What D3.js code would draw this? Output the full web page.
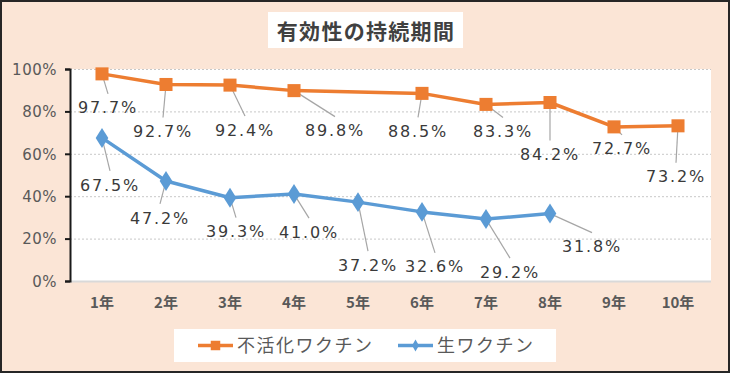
<!DOCTYPE html>
<html lang="ja">
<head>
<meta charset="UTF-8">
<title>有効性の持続期間</title>
<script src="https://d3js.org/d3.v7.min.js"></script>
<style>
    html, body { margin: 0; padding: 0; background: #fff; }
    svg { display: block; }
    .tick-label { font-family: "DejaVu Sans", "Noto Sans CJK JP", sans-serif; fill: #595959; }
    .val { font-family: "DejaVu Sans", sans-serif; font-size: 16px; fill: #3a3a3a; letter-spacing: 1.8px; }
    .leader { stroke: #a6a6a6; stroke-width: 1.2; }
</style>
</head>
<body>
<div id="chart"></div>
<script>
// data
const years = ["1年", "2年", "3年", "4年", "5年", "6年", "7年", "8年", "9年", "10年"];
const inactivated = [97.7, 92.7, 92.4, 89.8, null, 88.5, 83.3, 84.2, 72.7, 73.2];
const live = [67.5, 47.2, 39.3, 41.0, 37.2, 32.6, 29.2, 31.8, null, null];
const yTicks = [0, 20, 40, 60, 80, 100];
const seriesNames = ["不活化ワクチン", "生ワクチン"];

// where Excel put the data labels (offset from the point, px)
const inactLabelOffset = [[6, 34], [-3, 47], [15, 45], [41, 40], null, [-4, 38], [17, 27], [0, 52], [8, 22], [-2, 51]];
const liveLabelOffset = [[8, 47], [-6, 37], [6, 34], [15, 38], [10, 63], [13, 55], [24, 53], [42, 33]];

const W = 730, H = 373;
const plot = { left: 70, right: 711, top: 69, bottom: 281 };

const svg = d3.select("#chart").append("svg")
    .attr("width", W).attr("height", H);

// background + frame
svg.append("rect").attr("x", 1).attr("y", 1).attr("width", W - 2).attr("height", H - 2)
    .attr("fill", "#fbe5d6").attr("stroke", "#262626").attr("stroke-width", 2);

// title
svg.append("rect").attr("x", 268).attr("y", 12).attr("width", 195).attr("height", 36).attr("fill", "#fff");
svg.append("text").attr("x", 366).attr("y", 38.5).attr("text-anchor", "middle")
    .style("font-family", "'Noto Sans CJK JP', sans-serif").style("font-size", "21px")
    .style("font-weight", "bold").style("fill", "#404040").style("letter-spacing", "1.3px")
    .text("有効性の持続期間");

// plot area
svg.append("rect").attr("x", plot.left).attr("y", plot.top)
    .attr("width", plot.right - plot.left).attr("height", plot.bottom - plot.top).attr("fill", "#fff");

const x = d3.scalePoint().domain(years).range([plot.left, plot.right - 1]).padding(0.5);
const y = d3.scaleLinear().domain([0, 100]).range([plot.bottom, plot.top]);

// grid
svg.append("g").selectAll("line").data(yTicks.filter(d => d > 0)).join("line")
    .attr("x1", plot.left).attr("x2", plot.right)
    .attr("y1", d => y(d) + 0.5).attr("y2", d => y(d) + 0.5)
    .attr("stroke", "#c8c8c8").attr("stroke-dasharray", "2,2").attr("stroke-width", 1);

// x axis line (light)
svg.append("line").attr("x1", plot.left).attr("x2", plot.right)
    .attr("y1", plot.bottom + 0.5).attr("y2", plot.bottom + 0.5)
    .attr("stroke", "#d9d9d9").attr("stroke-width", 2);

// y axis
const yAxis = svg.append("g").attr("transform", `translate(${plot.left},0)`)
    .call(d3.axisLeft(y).tickValues(yTicks).tickFormat(d => d + "%").tickSize(5).tickPadding(8));
yAxis.select(".domain").attr("stroke", "#1a1a1a").attr("stroke-width", 2);
yAxis.selectAll(".tick line").attr("stroke", "#1a1a1a").attr("stroke-width", 2);
yAxis.selectAll(".tick text").attr("class", "tick-label").style("font-size", "15px")
    .style("letter-spacing", "0.5px").attr("dy", "0.35em");

// x labels
svg.append("g").selectAll("text").data(years).join("text")
    .attr("class", "tick-label")
    .attr("x", d => x(d)).attr("y", 308).attr("text-anchor", "middle")
    .style("font-size", "15px").style("font-family", "'Noto Sans CJK JP', sans-serif")
    .style("font-weight", "bold").style("fill", "#595959")
    .text(d => d);

const line = d3.line().x(d => x(d.year)).y(d => y(d.v));

function drawSeries(values, offsets, color, shape) {
    const pts = years.map((yr, i) => ({ year: yr, v: values[i], off: offsets[i] }))
        .filter(d => d.v !== null);

    // leader lines
    svg.append("g").selectAll("line").data(pts).join("line")
        .attr("class", "leader")
        .attr("x1", d => x(d.year)).attr("y1", d => y(d.v))
        .attr("x2", d => x(d.year) + d.off[0]).attr("y2", d => y(d.v) + d.off[1] - 14);

    svg.append("path").datum(pts)
        .attr("d", line).attr("fill", "none")
        .attr("stroke", color).attr("stroke-width", 3.5).attr("stroke-linejoin", "round");

    svg.append("g").selectAll("path").data(pts).join("path")
        .attr("d", d3.symbol().type(shape).size(shape === d3.symbolSquare ? 170 : 115))
        .attr("transform", d => `translate(${x(d.year)},${y(d.v)})` + (shape === d3.symbolDiamond ? " scale(1.1,1)" : ""))
        .attr("fill", color);

    svg.append("g").selectAll("text").data(pts).join("text")
        .attr("class", "val")
        .attr("x", d => x(d.year) + d.off[0]).attr("y", d => y(d.v) + d.off[1])
        .attr("text-anchor", "middle").attr("dy", "0.35em")
        .text(d => d.v.toFixed(1) + "%");
}

drawSeries(inactivated, inactLabelOffset, "#ed7d31", d3.symbolSquare);
drawSeries(live, liveLabelOffset, "#5b9bd5", d3.symbolDiamond);

// legend
const lg = svg.append("g");
lg.append("rect").attr("x", 174).attr("y", 329).attr("width", 382).attr("height", 33).attr("fill", "#fff");
const legendItems = [
    { name: seriesNames[0], color: "#ed7d31", shape: d3.symbolSquare, size: 90, x0: 198 },
    { name: seriesNames[1], color: "#5b9bd5", shape: d3.symbolDiamond, size: 40, x0: 398 }
];
legendItems.forEach(it => {
    lg.append("line").attr("x1", it.x0).attr("x2", it.x0 + 35).attr("y1", 345.5).attr("y2", 345.5)
        .attr("stroke", it.color).attr("stroke-width", 3.5);
    lg.append("path").attr("transform", `translate(${it.x0 + 17.5},345.5)`)
        .attr("d", d3.symbol().type(it.shape).size(it.size)).attr("fill", it.color);
    lg.append("text").attr("x", it.x0 + 39).attr("y", 346).attr("dy", "0.35em")
        .style("font-family", "'Noto Sans CJK JP', sans-serif").style("font-size", "18px")
        .style("fill", "#595959").style("letter-spacing", "1.5px")
        .text(it.name);
});
</script>
</body>
</html>
